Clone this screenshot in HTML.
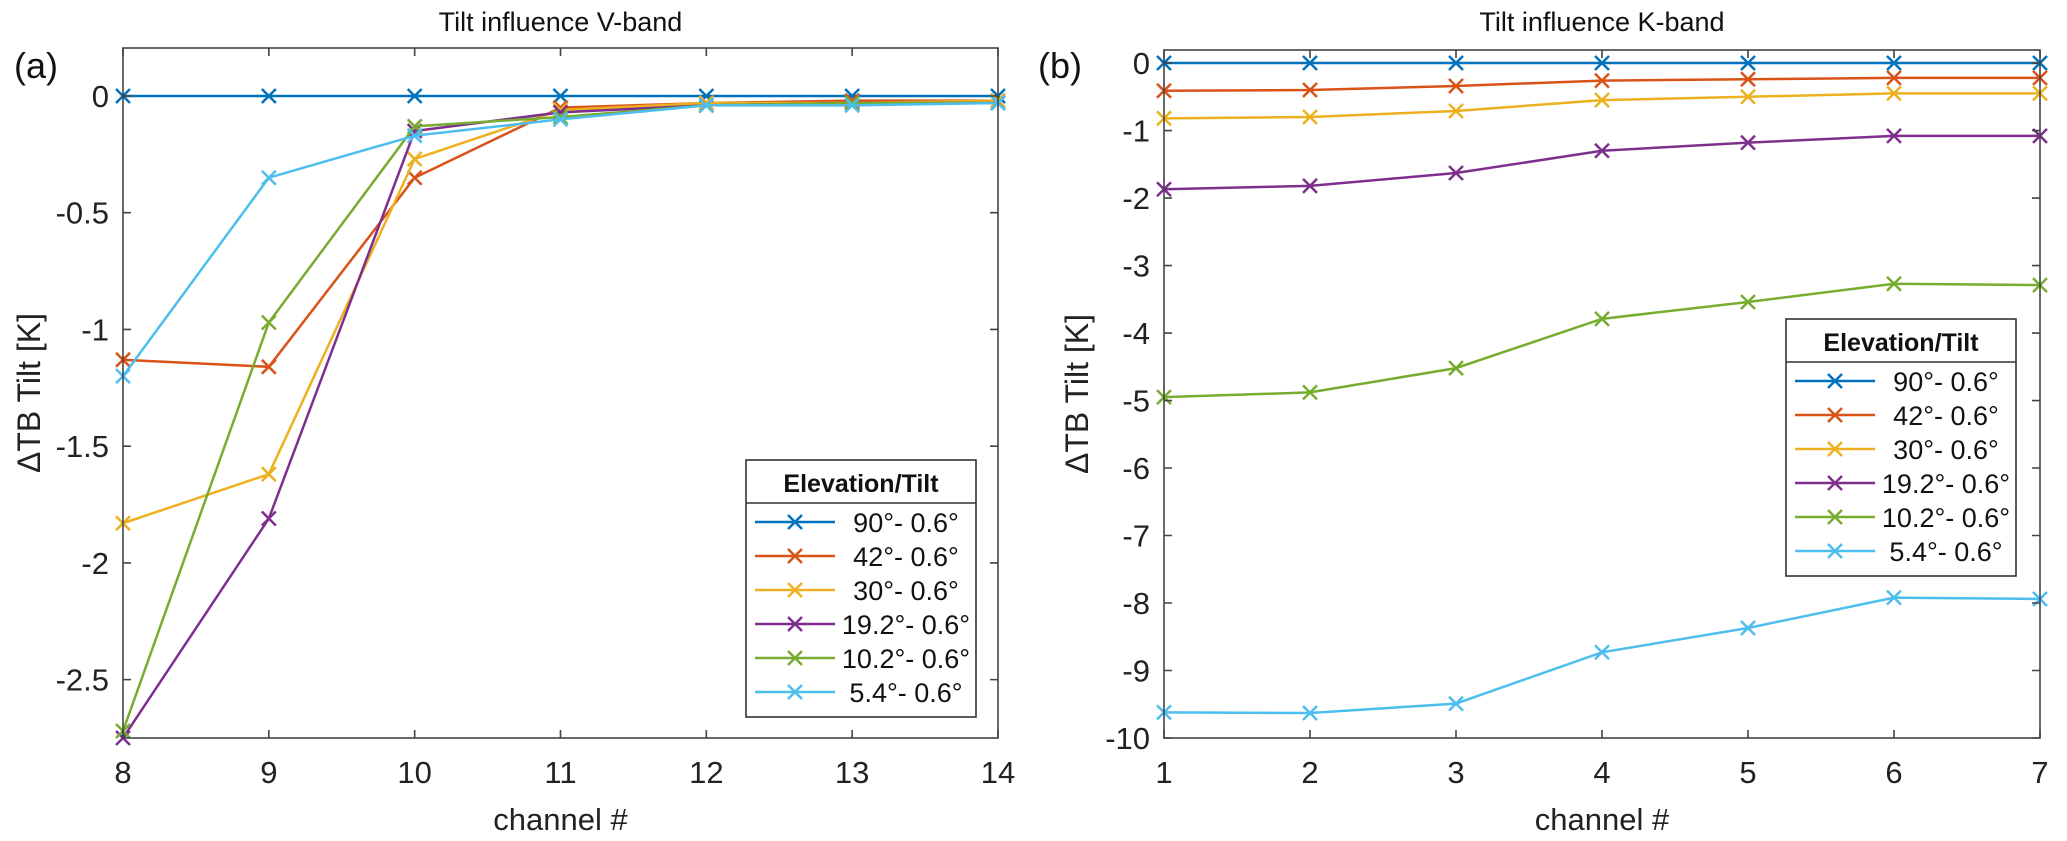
<!DOCTYPE html>
<html><head><meta charset="utf-8"><style>
body{margin:0;background:#fff}
svg{display:block;font-family:"Liberation Sans",Arial,sans-serif}
</style></head><body>
<svg id="fig" width="2067" height="841" viewBox="0 0 2067 841" xmlns="http://www.w3.org/2000/svg"></svg>
<script>
const seriesNames=["90°- 0.6°","42°- 0.6°","30°- 0.6°","19.2°- 0.6°","10.2°- 0.6°","5.4°- 0.6°"];
const colors=["#0072BD","#D95319","#EDB120","#7E2F8E","#77AC30","#4DBEEE"];
const vChannels=[8,9,10,11,12,13,14];
const v90=[0,0,0,0,0,0,0];
const v42=[-1.13,-1.16,-0.35,-0.05,-0.03,-0.02,-0.02];
const v30=[-1.83,-1.62,-0.27,-0.06,-0.03,-0.03,-0.02];
const v19=[-2.75,-1.81,-0.15,-0.07,-0.04,-0.03,-0.03];
const v10=[-2.72,-0.97,-0.13,-0.09,-0.04,-0.03,-0.03];
const v5=[-1.20,-0.35,-0.17,-0.10,-0.04,-0.04,-0.03];
const vYTicks=[0,-0.5,-1,-1.5,-2,-2.5];
const vYTickLabels=["0","-0.5","-1","-1.5","-2","-2.5"];
const kChannels=[1,2,3,4,5,6,7];
const k90=[0,0,0,0,0,0,0];
const k42=[-0.41,-0.40,-0.34,-0.26,-0.24,-0.22,-0.22];
const k30=[-0.82,-0.80,-0.71,-0.55,-0.50,-0.45,-0.45];
const k19=[-1.87,-1.82,-1.63,-1.30,-1.18,-1.08,-1.08];
const k10=[-4.95,-4.88,-4.52,-3.79,-3.54,-3.27,-3.29];
const k5=[-9.62,-9.63,-9.49,-8.73,-8.37,-7.92,-7.94];
const kYTicks=[0,-1,-2,-3,-4,-5,-6,-7,-8,-9,-10];
const kYTickLabels=["0","-1","-2","-3","-4","-5","-6","-7","-8","-9","-10"];

const svg=document.getElementById('fig');
const NS="http://www.w3.org/2000/svg";
function mk(tag,attrs,parent){const e=document.createElementNS(NS,tag);for(const k in attrs)e.setAttribute(k,attrs[k]);(parent||svg).appendChild(e);return e;}
function txt(s,attrs,parent){const e=mk('text',attrs,parent);e.textContent=s;return e;}

function panel(o){
  const g=mk('g',{});
  
  
  const X=v=>o.x0+(v-o.xmin)/(o.xmax-o.xmin)*(o.x1-o.x0);
  const Y=v=>o.y0+(o.ymax-v)/(o.ymax-o.ymin)*(o.y1-o.y0);
  const t=txt(o.title,{x:(o.x0+o.x1)/2,y:31,'font-size':27,'text-anchor':'middle',fill:'#111'},g);
  
  
  const pl=txt(o.label,{x:o.labelX,y:78,'font-size':36,fill:'#111'},g);
  
  
  // series
  o.series.forEach((vals,i)=>{
    const pts=vals.map((v,j)=>X(o.xs[j])+','+Y(v)).join(' ');
    const line=mk('polyline',{points:pts,fill:'none',stroke:colors[i],'stroke-width':2.5},g);
    
    
    vals.forEach((v,j)=>{
      const cx=X(o.xs[j]),cy=Y(v),r=7;
      const m=mk('path',{d:`M${cx-r},${cy-r}L${cx+r},${cy+r}M${cx-r},${cy+r}L${cx+r},${cy-r}`,stroke:colors[i],'stroke-width':2.5},g);
      
      
    });
  });
  // axes box
  const box=mk('rect',{x:o.x0,y:o.y0,width:o.x1-o.x0,height:o.y1-o.y0,fill:'none',stroke:'#444','stroke-width':1.6},g);
  
  
  o.xs.forEach(c=>{
    const x=X(c);
    mk('path',{d:`M${x},${o.y1}v-8M${x},${o.y0}v8`,stroke:'#444','stroke-width':1.6},g);
    const l=txt(String(c),{x:x,y:783,'font-size':31,'text-anchor':'middle',fill:'#222'},g);
    
    
  });
  o.yt.forEach((v,i)=>{
    const y=Y(v);
    mk('path',{d:`M${o.x0},${y}h8M${o.x1},${y}h-8`,stroke:'#444','stroke-width':1.6},g);
    const l=txt(o.ytl[i],{x:o.x0-14,y:y+11,'font-size':31,'text-anchor':'end',fill:'#222'},g);
    
    
  });
  const xl=txt('channel #',{x:(o.x0+o.x1)/2,y:830,'font-size':31,'text-anchor':'middle',fill:'#222'},g);
  
  
  const yl=txt('\u0394TB Tilt [K]',{x:0,y:0,'font-size':32,'text-anchor':'middle',fill:'#222',transform:`translate(${o.ylabX},${(o.y0+o.y1)/2}) rotate(-90)`},g);
  
  
  // legend
  const L=o.leg;
  const lg=mk('g',{},g);
  
  
  mk('rect',{x:L.x,y:L.y,width:230,height:257,fill:'#fff',stroke:'#333','stroke-width':1.6},lg);
  mk('line',{x1:L.x,x2:L.x+230,y1:L.y+43,y2:L.y+43,stroke:'#333','stroke-width':1.4},lg);
  txt('Elevation/Tilt',{x:L.x+115,y:L.y+32,'font-size':25,'font-weight':'bold','text-anchor':'middle',fill:'#111'},lg);
  seriesNames.forEach((n,i)=>{
    const y=L.y+62+i*34;
    const e=mk('g',{},lg);
    
    
    mk('line',{x1:L.x+9,x2:L.x+89,y1:y,y2:y,stroke:colors[i],'stroke-width':2.5},e);
    const cx=L.x+49,r=7;
    mk('path',{d:`M${cx-r},${y-r}L${cx+r},${y+r}M${cx-r},${y+r}L${cx+r},${y-r}`,stroke:colors[i],'stroke-width':2.5},e);
    txt(n,{x:L.x+160,y:y+10,'font-size':27,'text-anchor':'middle',fill:'#111'},e);
  });
}
panel({id:'v-band',title:'Tilt influence V-band',label:'(a)',labelX:14,x0:123,x1:998,y0:48,y1:738,xmin:8,xmax:14,ymin:-2.75,ymax:0.2056,
  xs:vChannels,series:[v90,v42,v30,v19,v10,v5],yt:vYTicks,ytl:vYTickLabels,ylabX:40,leg:{x:746,y:460}});
panel({id:'k-band',title:'Tilt influence K-band',label:'(b)',labelX:1038,x0:1164,x1:2040,y0:50,y1:738,xmin:1,xmax:7,ymin:-10,ymax:0.193,
  xs:kChannels,series:[k90,k42,k30,k19,k10,k5],yt:kYTicks,ytl:kYTickLabels,ylabX:1088,leg:{x:1786,y:319}});
</script>
</body></html>
